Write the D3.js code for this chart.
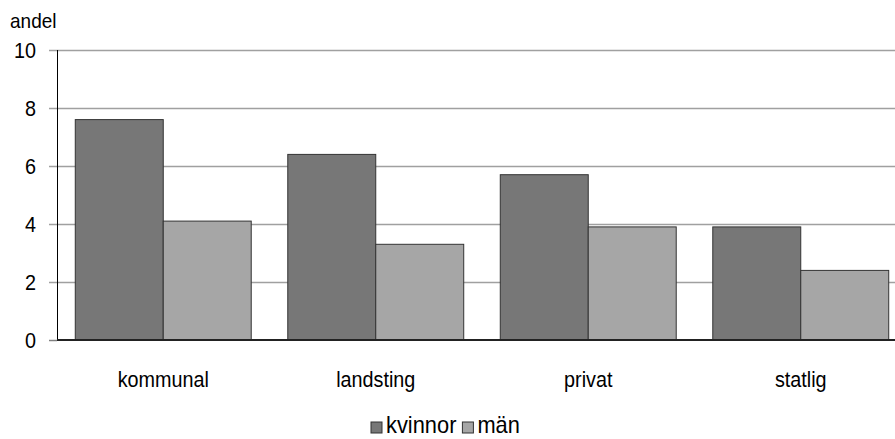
<!DOCTYPE html>
<html>
<head>
<meta charset="utf-8">
<script src="https://cdn.jsdelivr.net/npm/d3@7/dist/d3.min.js"></script>
<style>
  html, body { margin: 0; padding: 0; background: #fff; }
  svg text { font-family: "Liberation Sans", Arial, sans-serif; fill: #000; }
</style>
</head>
<body>
<svg id="chart" width="895" height="439"></svg>
<script>
// Share of employees by sector, split by sex
const categories = ["kommunal", "landsting", "privat", "statlig"];
const seriesNames = ["kvinnor", "män"];
const kvinnor = [7.6, 6.4, 5.7, 3.9];
const man = [4.1, 3.3, 3.9, 2.4];
const yTicks = [0, 2, 4, 6, 8, 10];
const yTitle = "andel";

const colors = ["#777777", "#a6a6a6"];
const values = [kvinnor, man];

const svg = d3.select("#chart");
const plot = { left: 57, right: 907, top: 50, bottom: 340 };

// narrow text: a horizontally compressed sans
const narrow = 0.9;

const x = d3.scaleBand()
  .domain(categories)
  .range([plot.left, plot.right])
  .paddingInner(0.172)
  .paddingOuter(0.086);

const xSub = d3.scaleBand()
  .domain(seriesNames)
  .range([0, x.bandwidth()]);

const y = d3.scaleLinear().domain([0, 10]).range([plot.bottom, plot.top]);

// horizontal gridlines with short ticks left of the axis
const grid = svg.append("g");
grid.selectAll("line")
  .data(yTicks.filter(d => d > 0))
  .join("line")
  .attr("x1", plot.left - 8)
  .attr("x2", 895)
  .attr("y1", d => Math.round(y(d)) + 0.5)
  .attr("y2", d => Math.round(y(d)) + 0.5)
  .attr("stroke", "#a0a0a0")
  .attr("stroke-width", 1.5);

// bars
const rows = categories.map((c, i) => ({ c, vals: seriesNames.map((s, j) => ({ s, v: values[j][i], j })) }));
svg.append("g").selectAll("g")
  .data(rows)
  .join("g")
  .attr("transform", d => `translate(${x(d.c)},0)`)
  .selectAll("rect")
  .data(d => d.vals)
  .join("rect")
  .attr("x", d => xSub(d.s))
  .attr("width", xSub.bandwidth())
  .attr("y", d => y(d.v))
  .attr("height", d => y(0) - y(d.v))
  .attr("fill", d => colors[d.j])
  .attr("stroke", "#333")
  .attr("stroke-width", 1);

// y axis line
svg.append("line")
  .attr("x1", plot.left + 0.5).attr("x2", plot.left + 0.5)
  .attr("y1", plot.top).attr("y2", plot.bottom)
  .attr("stroke", "#000").attr("stroke-width", 1);

// baseline tick and axis
svg.append("line")
  .attr("x1", plot.left - 8).attr("x2", plot.left)
  .attr("y1", plot.bottom + 0.5).attr("y2", plot.bottom + 0.5)
  .attr("stroke", "#808080").attr("stroke-width", 1.5);
svg.append("line")
  .attr("x1", plot.left).attr("x2", 895)
  .attr("y1", plot.bottom).attr("y2", plot.bottom)
  .attr("stroke", "#222").attr("stroke-width", 2);

// y tick labels
svg.append("g").selectAll("text")
  .data(yTicks)
  .join("text")
  .attr("transform", d => `translate(36,${y(d)}) scale(${narrow},1)`)
  .attr("dy", "0.36em")
  .attr("text-anchor", "end")
  .attr("font-size", 22)
  .text(d => d);

// y title
svg.append("text")
  .attr("transform", "translate(10,28) scale(0.95,1)")
  .attr("font-size", 20)
  .text(yTitle);

// category labels
svg.append("g").selectAll("text")
  .data(categories)
  .join("text")
  .attr("transform", d => `translate(${x(d) + x.bandwidth() / 2},387) scale(${narrow},1)`)
  .attr("text-anchor", "middle")
  .attr("font-size", 22)
  .text(d => d);

// legend
const legend = svg.append("g");
let lx = 371;
seriesNames.forEach((s, j) => {
  legend.append("rect")
    .attr("x", lx).attr("y", 422)
    .attr("width", 11).attr("height", 11)
    .attr("fill", colors[j])
    .attr("stroke", "#333").attr("stroke-width", 1);
  const t = legend.append("text")
    .attr("transform", `translate(${lx + 15},433) scale(0.95,1)`)
    .attr("font-size", 23)
    .text(s);
  lx += 15 + t.node().getComputedTextLength() * 0.95 + 6;
});
</script>
</body>
</html>
